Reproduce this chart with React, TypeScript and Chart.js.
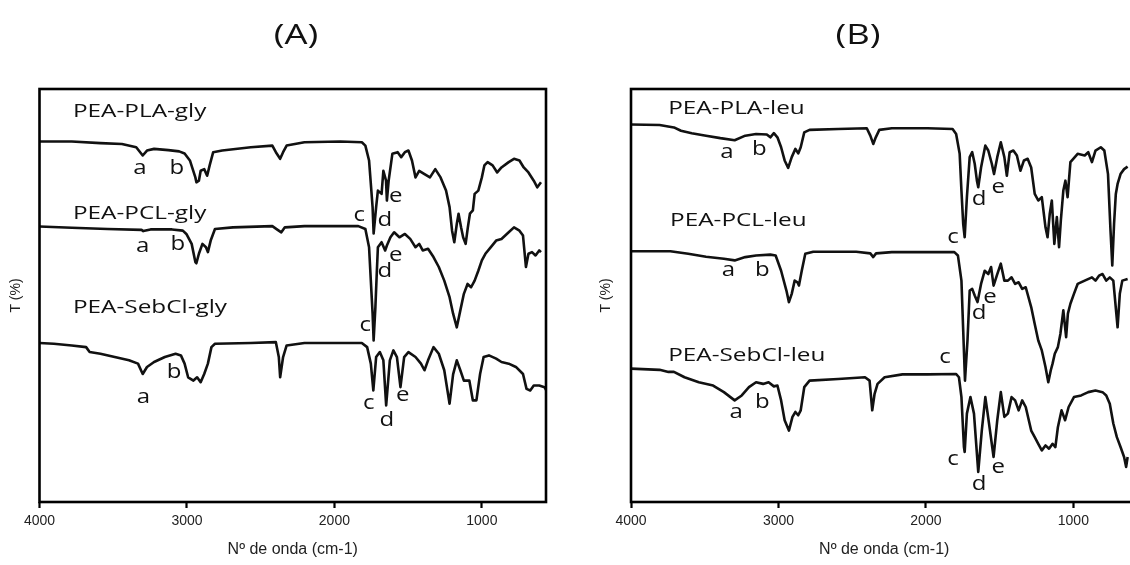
import { useEffect, useRef } from 'react';
import { Chart, registerables } from 'chart.js';

Chart.register(...registerables);

// ---------- data (wavenumber cm-1, transmittance arbitrary %) ----------
const xTicks = [4000, 3000, 2000, 1000];
const X_MAX = 4000;
const X_MIN = 565;

const plaGly: number[][] = [
  [4000, 87.3], [3781, 87.3], [3587, 86.9], [3441, 86.7], [3344, 85.9], [3300, 83.9], [3271, 85.1], [3223, 85.5],
  [3126, 85.2], [3053, 84.9], [3016, 84.4], [2980, 82.7], [2943, 78.6], [2936, 77.4], [2919, 77.8], [2907, 80.2],
  [2883, 80.6], [2863, 79.0], [2846, 81.5], [2822, 84.7], [2761, 85.1], [2567, 85.9], [2421, 86.3], [2397, 84.7],
  [2368, 83.1], [2348, 84.7], [2324, 86.3], [2203, 87.1], [1960, 87.3], [1814, 87.1], [1790, 86.3], [1765, 82.7],
  [1741, 71.4], [1734, 65.0], [1717, 71.4], [1705, 75.4], [1680, 74.6], [1668, 80.2], [1650, 77.8], [1644, 73.0],
  [1632, 77.8], [1607, 84.3], [1571, 84.7], [1547, 83.5], [1522, 84.7], [1498, 85.1], [1474, 82.7], [1450, 78.6],
  [1425, 80.2], [1389, 79.4], [1352, 78.6], [1316, 80.6], [1280, 78.6], [1243, 75.4], [1219, 71.4], [1202, 65.7],
  [1187, 62.9], [1170, 67.3], [1158, 69.8], [1141, 66.5], [1127, 64.1], [1110, 62.5], [1095, 66.5], [1081, 69.8],
  [1061, 70.6], [1049, 74.6], [1024, 75.4], [1000, 78.6], [983, 81.5], [961, 82.3], [927, 81.5], [896, 79.8],
  [867, 81.0], [818, 82.3], [782, 83.1], [745, 82.7], [716, 81.0], [684, 79.8], [648, 77.8], [624, 76.2], [599, 77.4],
];

const pclGly: number[][] = [
  [4000, 66.7], [3781, 66.4], [3539, 66.1], [3308, 65.9], [3296, 65.6], [3247, 66.0], [3101, 66.0], [3028, 65.7],
  [3004, 64.9], [2968, 62.5], [2943, 58.1], [2936, 57.8], [2919, 60.1], [2895, 62.5], [2871, 61.7], [2858, 60.5],
  [2839, 63.3], [2810, 66.1], [2688, 66.5], [2421, 66.8], [2385, 65.9], [2360, 65.3], [2336, 66.5], [2203, 66.8],
  [1838, 66.8], [1790, 66.1], [1765, 61.7], [1753, 53.6], [1741, 45.6], [1734, 39.1], [1722, 47.2], [1712, 56.0],
  [1705, 61.7], [1680, 62.9], [1656, 60.9], [1644, 62.1], [1620, 64.1], [1595, 65.3], [1559, 64.1], [1522, 64.9],
  [1486, 63.7], [1450, 61.7], [1425, 62.5], [1401, 60.9], [1365, 61.3], [1328, 59.3], [1292, 56.9], [1255, 53.6],
  [1219, 49.6], [1195, 45.6], [1170, 42.3], [1146, 46.4], [1122, 50.4], [1097, 52.8], [1073, 52.0], [1049, 53.6],
  [1024, 56.0], [1000, 58.5], [976, 60.1], [939, 61.7], [903, 63.3], [867, 63.7], [818, 65.3], [782, 66.5],
  [745, 65.7], [721, 64.5], [701, 56.9], [684, 60.1], [660, 60.5], [636, 59.7], [611, 60.9], [599, 60.5],
];

const sebGly: number[][] = [
  [4000, 38.5], [3903, 38.3], [3781, 37.9], [3684, 37.5], [3660, 36.3], [3587, 35.9], [3490, 35.1], [3393, 34.3],
  [3332, 33.5], [3300, 31.0], [3271, 32.7], [3223, 33.9], [3150, 35.1], [3077, 35.9], [3041, 35.5], [3016, 33.5],
  [2992, 30.2], [2956, 29.4], [2931, 30.2], [2907, 29.0], [2883, 31.0], [2858, 33.5], [2834, 37.5], [2810, 38.3],
  [2567, 38.5], [2397, 38.7], [2377, 35.1], [2368, 30.2], [2348, 35.1], [2324, 37.9], [2203, 38.5], [1960, 38.5],
  [1814, 38.5], [1778, 37.5], [1753, 33.5], [1736, 27.0], [1717, 35.1], [1692, 36.3], [1668, 34.3], [1649, 23.4],
  [1624, 34.3], [1600, 36.7], [1576, 35.1], [1552, 27.8], [1527, 35.1], [1498, 36.3], [1450, 35.1], [1413, 33.5],
  [1389, 31.9], [1365, 34.3], [1328, 37.5], [1292, 35.9], [1255, 31.9], [1219, 23.8], [1195, 30.9], [1170, 34.3],
  [1146, 31.9], [1122, 29.4], [1085, 29.4], [1061, 24.6], [1037, 24.6], [1012, 31.0], [988, 35.1], [952, 35.5],
  [903, 34.7], [867, 33.9], [818, 33.5], [769, 32.7], [721, 31.0], [697, 27.4], [672, 27.0], [648, 28.2],
  [611, 28.2], [575, 27.8], [563, 27.0],
];

const plaLeu: number[][] = [
  [4000, 91.4], [3806, 91.3], [3709, 90.7], [3661, 89.9], [3588, 89.3], [3491, 88.7], [3394, 88.1], [3297, 87.6],
  [3225, 88.7], [3152, 89.1], [3079, 89.0], [3055, 88.3], [3031, 89.3], [3007, 88.3], [2982, 85.9], [2958, 82.7],
  [2934, 80.9], [2910, 83.5], [2885, 85.5], [2866, 84.4], [2849, 85.9], [2825, 89.5], [2789, 90.1], [2595, 90.3],
  [2401, 90.5], [2377, 88.7], [2357, 86.7], [2340, 88.3], [2316, 90.1], [2231, 90.5], [1989, 90.5], [1819, 90.3],
  [1795, 89.1], [1771, 84.3], [1759, 75.4], [1747, 67.3], [1737, 64.1], [1722, 73.8], [1703, 83.5], [1686, 84.7],
  [1669, 81.9], [1654, 77.8], [1645, 76.2], [1626, 81.0], [1597, 86.3], [1577, 85.1], [1553, 81.9], [1538, 79.4],
  [1516, 83.5], [1492, 87.1], [1468, 83.5], [1451, 79.0], [1432, 84.7], [1407, 85.1], [1383, 83.9], [1359, 80.2],
  [1335, 82.7], [1310, 83.1], [1286, 81.0], [1262, 74.6], [1238, 73.0], [1214, 73.8], [1189, 66.5], [1175, 64.1],
  [1160, 69.8], [1146, 73.0], [1129, 62.5], [1112, 69.0], [1097, 61.7], [1085, 68.1], [1068, 75.4], [1054, 77.8],
  [1039, 73.8], [1020, 82.3], [971, 84.3], [923, 83.9], [899, 84.7], [874, 82.3], [850, 85.1], [814, 85.9],
  [790, 85.1], [765, 79.4], [748, 65.7], [736, 57.3], [724, 67.3], [712, 74.6], [700, 77.0], [680, 79.4],
  [656, 80.6], [632, 81.2],
];

const pclLeu: number[][] = [
  [4000, 60.7], [3733, 60.7], [3612, 60.1], [3491, 59.4], [3370, 58.9], [3297, 58.5], [3225, 59.3], [3152, 59.7],
  [3055, 59.9], [3019, 59.7], [2982, 56.0], [2946, 51.2], [2929, 48.4], [2910, 50.4], [2890, 53.6], [2871, 53.2],
  [2861, 52.4], [2842, 56.0], [2818, 60.1], [2764, 60.6], [2473, 60.6], [2377, 60.2], [2357, 59.3], [2338, 60.2],
  [2231, 60.5], [1989, 60.5], [1807, 60.5], [1783, 59.7], [1759, 53.6], [1747, 41.5], [1735, 29.4], [1718, 39.1],
  [1703, 51.2], [1686, 51.6], [1669, 50.0], [1650, 48.4], [1626, 52.8], [1601, 56.0], [1577, 55.2], [1558, 56.9],
  [1541, 52.4], [1516, 55.2], [1492, 57.7], [1468, 53.6], [1444, 53.6], [1419, 54.4], [1395, 52.8], [1371, 53.2],
  [1347, 51.6], [1323, 52.0], [1286, 47.2], [1262, 43.1], [1238, 39.1], [1214, 36.7], [1189, 32.7], [1170, 29.0],
  [1153, 31.9], [1141, 33.5], [1126, 35.9], [1105, 37.5], [1088, 40.7], [1068, 46.4], [1049, 39.9], [1037, 45.6],
  [1020, 48.0], [996, 50.4], [971, 52.8], [923, 53.6], [874, 54.4], [850, 53.6], [826, 54.8], [802, 55.2],
  [777, 53.6], [753, 54.4], [729, 53.6], [700, 42.3], [685, 50.4], [668, 53.6], [632, 54.0],
];

const sebLeu: number[][] = [
  [4000, 32.3], [3806, 32.0], [3746, 31.5], [3709, 31.5], [3637, 30.2], [3540, 29.0], [3443, 28.2], [3370, 26.6],
  [3297, 24.6], [3249, 25.8], [3200, 27.8], [3152, 29.0], [3104, 28.6], [3067, 29.0], [3031, 28.0], [3007, 28.2],
  [2982, 24.6], [2958, 19.8], [2929, 17.3], [2905, 20.6], [2885, 21.8], [2866, 21.0], [2849, 22.2], [2825, 27.8],
  [2789, 29.4], [2595, 29.8], [2413, 30.2], [2382, 29.4], [2364, 22.2], [2348, 26.2], [2328, 28.6], [2280, 30.2],
  [2159, 30.9], [1989, 30.9], [1795, 31.0], [1776, 30.2], [1759, 25.4], [1742, 13.3], [1737, 12.1], [1722, 21.4],
  [1698, 25.4], [1674, 21.4], [1645, 7.3], [1621, 17.3], [1597, 25.4], [1572, 19.0], [1541, 10.9], [1516, 19.8],
  [1492, 26.6], [1468, 20.6], [1444, 21.4], [1419, 25.4], [1395, 24.6], [1371, 22.2], [1347, 24.6], [1323, 23.0],
  [1286, 17.3], [1262, 15.7], [1238, 14.1], [1214, 12.5], [1189, 13.7], [1165, 12.9], [1141, 14.1], [1122, 13.3],
  [1105, 18.1], [1080, 22.2], [1056, 19.8], [1032, 23.0], [996, 25.4], [947, 25.8], [899, 26.6], [850, 27.0],
  [802, 26.6], [777, 25.8], [753, 23.8], [729, 19.0], [705, 15.7], [680, 13.3], [656, 10.9], [642, 8.5], [632, 10.9],
];

// sample names (anchored at wavenumber / value of their left baseline)
const namesA = [
  { t: 'PEA-PLA-gly', x: 3773, y: 93.2 },
  { t: 'PEA-PCL-gly', x: 3773, y: 68.5 },
  { t: 'PEA-SebCl-gly', x: 3773, y: 45.8 },
];
const namesB = [
  { t: 'PEA-PLA-leu', x: 3748, y: 93.9 },
  { t: 'PEA-PCL-leu', x: 3735, y: 66.8 },
  { t: 'PEA-SebCl-leu', x: 3748, y: 34.1 },
];

// band letters (centre of letter)
const bandsA = [
  { t: 'a', x: 3319, y: 80.9 }, { t: 'b', x: 3068, y: 80.9 }, { t: 'c', x: 1831, y: 69.4 },
  { t: 'd', x: 1658, y: 68.1 }, { t: 'e', x: 1584, y: 73.9 },
  { t: 'a', x: 3301, y: 62.0 }, { t: 'b', x: 3061, y: 62.5 }, { t: 'c', x: 1791, y: 42.7 },
  { t: 'd', x: 1658, y: 55.8 }, { t: 'e', x: 1584, y: 59.8 },
  { t: 'a', x: 3296, y: 25.4 }, { t: 'b', x: 3088, y: 31.5 }, { t: 'c', x: 1767, y: 24.0 },
  { t: 'd', x: 1645, y: 19.7 }, { t: 'e', x: 1537, y: 25.8 },
];
const bandsB = [
  { t: 'a', x: 3350, y: 84.7 }, { t: 'b', x: 3129, y: 85.5 }, { t: 'c', x: 1816, y: 64.2 },
  { t: 'd', x: 1639, y: 73.4 }, { t: 'e', x: 1510, y: 76.3 },
  { t: 'a', x: 3340, y: 56.1 }, { t: 'b', x: 3109, y: 56.1 }, { t: 'c', x: 1871, y: 35.1 },
  { t: 'd', x: 1639, y: 45.8 }, { t: 'e', x: 1565, y: 49.6 },
  { t: 'a', x: 3286, y: 21.8 }, { t: 'b', x: 3109, y: 24.2 }, { t: 'c', x: 1816, y: 10.4 },
  { t: 'd', x: 1639, y: 4.4 }, { t: 'e', x: 1510, y: 8.5 },
];

const LABEL_FONT = '"Open Sans", "Noto Sans", sans-serif';
const AXIS_FONT = 'Liberation Sans';

type Ann = { t: string; x: number; y: number };

function makePlugin(panelTitle: string, titleX: number, names: Ann[], bands: Ann[]) {
  return {
    id: 'annot' + panelTitle,
    afterDatasetsDraw(chart: any) {
      const { ctx, chartArea: a, scales } = chart;
      const xs = scales.x;
      const ys = scales.y;
      ctx.save();
      ctx.strokeStyle = '#000';
      ctx.lineWidth = 2.6;
      ctx.strokeRect(a.left, a.top, a.right - a.left, a.bottom - a.top);
      ctx.fillStyle = '#111';
      // sample names
      ctx.font = `19px ${LABEL_FONT}`;
      ctx.textAlign = 'left';
      ctx.textBaseline = 'alphabetic';
      for (const n of names) {
        ctx.save();
        ctx.translate(xs.getPixelForValue(n.x), ys.getPixelForValue(n.y));
        ctx.scale(1.28, 1);
        ctx.fillText(n.t, 0, 0);
        ctx.restore();
      }
      // band letters
      ctx.font = `20px ${LABEL_FONT}`;
      ctx.textAlign = 'center';
      ctx.textBaseline = 'middle';
      for (const b of bands) {
        ctx.save();
        ctx.translate(xs.getPixelForValue(b.x), ys.getPixelForValue(b.y));
        ctx.scale(1.2, 1);
        ctx.fillText(b.t, 0, 0);
        ctx.restore();
      }
      // panel title
      ctx.font = `28px ${LABEL_FONT}`;
      ctx.textAlign = 'center';
      ctx.textBaseline = 'middle';
      ctx.save();
      ctx.translate(titleX, 36);
      ctx.scale(1.3, 1);
      ctx.fillText(panelTitle, 0, 0);
      ctx.restore();
      ctx.restore();
    },
  };
}

type PanelProps = {
  left: number;
  width: number;
  yAxisWidth: number;
  padRight: number;
  yTitlePad: number;
  series: number[][][];
  names: Ann[];
  bands: Ann[];
  panelTitle: string;
  titleX: number;
};

function Panel(p: PanelProps) {
  const ref = useRef<HTMLCanvasElement | null>(null);
  useEffect(() => {
    if (!ref.current) return;
    const chart = new Chart(ref.current, {
      type: 'line',
      data: {
        datasets: p.series.map((s) => ({
          data: s.map(([x, y]) => ({ x, y })),
          borderColor: '#111',
          borderWidth: 2.6,
          pointRadius: 0,
          tension: 0,
          fill: false,
          borderJoinStyle: 'round' as const,
        })),
      },
      options: {
        animation: false,
        responsive: false,
        maintainAspectRatio: false,
        devicePixelRatio: 1,
        layout: { padding: { top: 89, right: p.padRight, left: 0, bottom: 0 } },
        plugins: { legend: { display: false }, tooltip: { enabled: false }, title: { display: false } },
        scales: {
          x: {
            type: 'linear',
            reverse: true,
            min: X_MIN,
            max: X_MAX,
            afterBuildTicks: (scale: any) => {
              scale.ticks = xTicks.map((v) => ({ value: v }));
            },
            afterFit: (scale: any) => {
              scale.height = 63;
            },
            grid: {
              display: true,
              drawOnChartArea: false,
              drawTicks: true,
              tickLength: 6,
              tickWidth: 2.2,
              tickColor: '#000',
              color: '#000',
            },
            border: { display: false },
            ticks: {
              autoSkip: false,
              maxRotation: 0,
              padding: 5,
              color: '#222',
              font: { family: AXIS_FONT, size: 14 },
              callback: (v: any) => String(v),
            },
            title: {
              display: true,
              text: 'Nº de onda (cm-1)',
              color: '#222',
              font: { family: AXIS_FONT, size: 16 },
              padding: { top: 0, bottom: 6 },
            },
          },
          y: {
            type: 'linear',
            min: 0,
            max: 100,
            afterFit: (scale: any) => {
              scale.width = p.yAxisWidth;
            },
            grid: { display: false },
            border: { display: false },
            ticks: { display: false },
            title: {
              display: true,
              text: 'T (%)',
              color: '#222',
              font: { family: AXIS_FONT, size: 14 },
              padding: { top: p.yTitlePad, bottom: 0 },
            },
          },
        },
      },
      plugins: [makePlugin(p.panelTitle, p.titleX, p.names, p.bands)],
    } as any);
    return () => chart.destroy();
  }, []);
  return (
    <canvas
      ref={ref}
      width={p.width}
      height={565}
      style={{ position: 'absolute', left: p.left, top: 0, width: p.width, height: 565, display: 'block' }}
    />
  );
}

export default function App() {
  return (
    <div
      style={{
        position: 'fixed',
        left: 0,
        top: 0,
        width: 1130,
        height: 565,
        overflow: 'hidden',
        background: '#fff',
      }}
    >
      <Panel
        left={0}
        width={586}
        yAxisWidth={39.5}
        padRight={40}
        yTitlePad={7.6}
        series={[plaGly, pclGly, sebGly]}
        names={namesA}
        bands={bandsA}
        panelTitle="(A)"
        titleX={296}
      />
      <Panel
        left={570}
        width={600}
        yAxisWidth={61}
        padRight={32.5}
        yTitlePad={27.6}
        series={[plaLeu, pclLeu, sebLeu]}
        names={namesB}
        bands={bandsB}
        panelTitle="(B)"
        titleX={288}
      />
    </div>
  );
}
